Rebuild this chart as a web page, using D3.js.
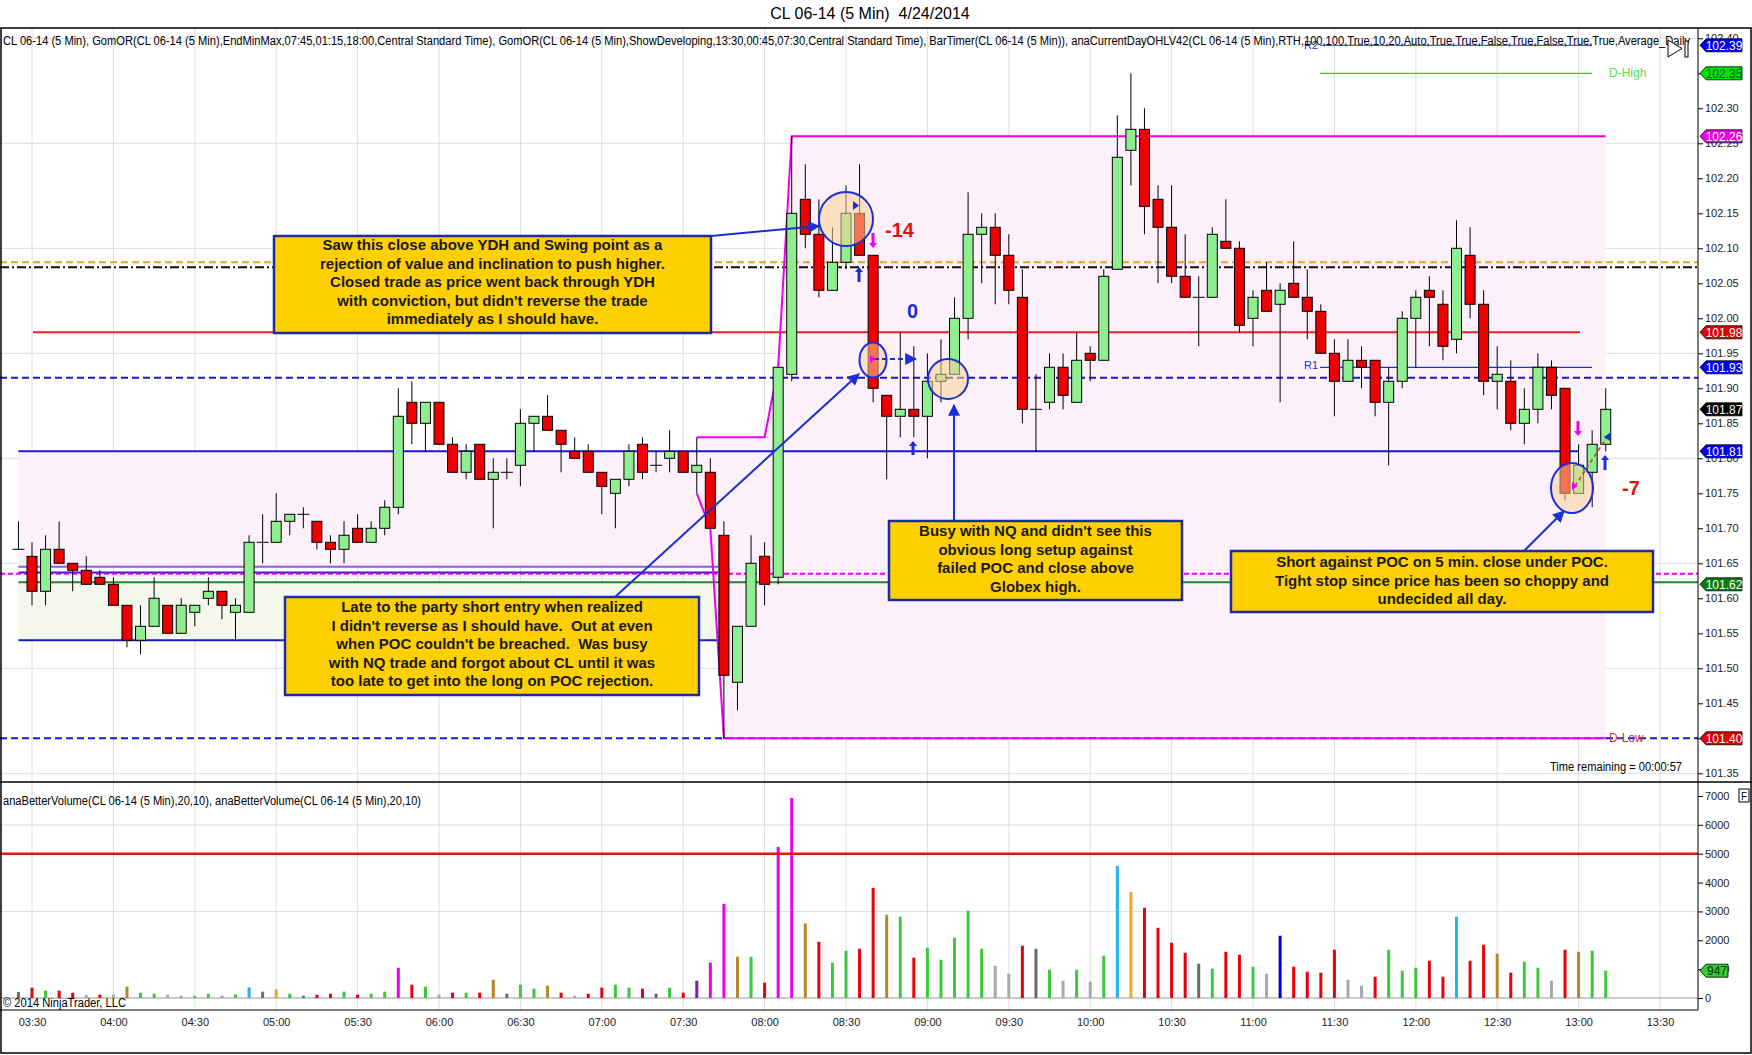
<!DOCTYPE html>
<html>
<head>
<meta charset="utf-8">
<script src="https://cdn.jsdelivr.net/npm/d3@7"></script>
<style>
body { margin: 0; background: #fff; }
text { font-family: "Liberation Sans", Arial, sans-serif; white-space: pre; }
</style>
</head>
<body>
<div id="chart"></div>
<script>
const width = 1752, height = 1055;
const axisX = 1698;
const mainTop = 28, mainBottom = 782, volBottom = 1010;

// bars every 5 minutes from 03:25
const day = "2014-04-24";
const firstBar = "03:25";

const open = [101.67,101.66,101.61,101.67,101.65,101.64,101.63,101.62,101.59,101.54,101.56,101.59,101.55,101.58,101.60,101.61,101.58,101.58,101.68,101.68,
  101.71,101.72,101.71,101.68,101.67,101.70,101.68,101.70,101.73,101.88,101.85,101.88,101.82,101.78,101.82,101.77,101.78,101.79,101.85,101.86,
  101.84,101.81,101.81,101.78,101.75,101.77,101.82,101.79,101.80,101.81,101.78,101.78,101.69,101.48,101.56,101.66,101.63,101.92,102.17,102.12,
  102.04,102.08,102.15,102.09,101.89,101.86,101.87,101.86,101.91,101.92,102.00,102.12,102.13,102.09,102.03,101.87,101.88,101.93,101.88,101.95,
  101.94,102.07,102.24,102.27,102.17,102.13,102.06,102.03,102.03,102.11,102.10,102.00,102.04,102.02,102.05,102.03,102.01,101.95,101.91,101.94,
  101.94,101.88,101.91,102.00,102.04,102.02,101.97,102.09,102.02,101.91,101.91,101.85,101.87,101.93,101.90,101.75,101.78,101.82];
const high = [101.71,101.68,101.69,101.71,101.65,101.66,101.64,101.63,101.59,101.59,101.63,101.59,101.60,101.59,101.63,101.61,101.60,101.69,101.72,101.75,
  101.72,101.73,101.71,101.69,101.71,101.72,101.71,101.74,101.90,101.91,101.88,101.88,101.83,101.82,101.82,101.80,101.80,101.87,101.86,101.89,
  101.84,101.83,101.82,101.78,101.77,101.82,101.83,101.81,101.84,101.81,101.83,101.80,101.71,101.56,101.69,101.68,101.93,102.26,102.22,102.17,
  102.13,102.19,102.22,102.09,101.89,101.98,101.96,101.95,101.97,102.03,102.18,102.15,102.15,102.12,102.07,101.92,101.95,101.95,101.98,101.96,
  102.07,102.29,102.35,102.30,102.19,102.19,102.12,102.06,102.13,102.17,102.11,102.04,102.08,102.05,102.11,102.07,102.02,101.97,101.97,101.96,
  101.94,101.93,102.01,102.04,102.06,102.04,102.14,102.13,102.04,101.96,101.94,101.90,101.95,101.94,101.90,101.82,101.84,101.90];
const low = [101.67,101.59,101.59,101.65,101.61,101.62,101.62,101.59,101.53,101.52,101.56,101.55,101.55,101.56,101.59,101.57,101.54,101.58,101.65,101.68,
  101.69,101.70,101.67,101.65,101.65,101.68,101.68,101.69,101.72,101.82,101.81,101.82,101.78,101.77,101.77,101.70,101.77,101.76,101.81,101.84,
  101.78,101.80,101.78,101.72,101.70,101.76,101.77,101.78,101.78,101.78,101.75,101.70,101.40,101.44,101.56,101.59,101.62,101.91,102.10,102.03,
  102.04,102.07,102.09,101.88,101.77,101.83,101.83,101.80,101.88,101.92,101.97,102.05,102.02,102.02,101.85,101.81,101.87,101.87,101.88,101.91,
  101.94,102.07,102.19,102.12,102.05,102.05,102.03,101.96,102.03,102.10,101.98,101.96,102.01,101.88,102.03,101.97,101.95,101.86,101.91,101.90,
  101.86,101.79,101.90,101.93,101.96,101.94,101.95,102.00,101.89,101.87,101.84,101.82,101.85,101.87,101.74,101.75,101.73,101.81];
const close = [101.67,101.61,101.67,101.65,101.64,101.62,101.62,101.59,101.54,101.56,101.60,101.55,101.59,101.59,101.61,101.59,101.59,101.68,101.68,101.71,
  101.72,101.72,101.68,101.67,101.69,101.68,101.70,101.73,101.86,101.85,101.88,101.82,101.78,101.81,101.77,101.78,101.78,101.85,101.86,101.84,
  101.82,101.80,101.78,101.76,101.77,101.81,101.78,101.79,101.81,101.78,101.79,101.70,101.49,101.56,101.65,101.62,101.93,102.15,102.12,102.04,
  102.08,102.15,102.09,101.90,101.86,101.87,101.86,101.91,101.92,102.00,102.12,102.13,102.09,102.04,101.87,101.87,101.93,101.89,101.94,101.94,
  102.06,102.23,102.27,102.16,102.13,102.06,102.03,102.03,102.12,102.10,101.99,102.03,102.01,102.04,102.03,102.01,101.95,101.91,101.94,101.93,
  101.88,101.91,102.00,102.03,102.03,101.96,102.10,102.02,101.91,101.92,101.85,101.87,101.93,101.89,101.75,101.79,101.82,101.87];

const volume = [208,358,254,254,185,104,115,115,392,185,150,115,80,80,150,80,115,369,219,300,
  150,80,115,150,219,115,150,219,1050,461,392,115,185,185,185,634,150,461,323,427,
  185,80,150,358,461,358,323,150,358,185,600,1223,3264,1430,1430,531,5236,6932,2584,1949,
  1223,1638,1707,3818,2884,2814,1396,1742,1326,2088,3022,1707,1119,842,1811,1707,980,600,980,565,
  1465,4579,3679,3126,2434,1915,1569,1188,1015,1603,1500,1084,842,2157,1084,911,877,1672,634,427,
  738,1672,946,1050,1292,738,2814,1292,1845,1534,877,1257,1050,600,1672,1603,1638,947];
// volume bar class: r red, g green, l light gray, d dark gray, y goldenrod, o orange, c cyan, m magenta, p purple, b blue
const volType = ["d","r","g","r","r","l","r","l","y","g","g","l","l","g","g","l","g","c","d","o",
  "g","d","r","r","g","r","g","g","m","r","g","l","r","g","r","y","d","g","g","y",
  "r","l","r","r","g","g","r","d","g","r","p","m","m","y","g","r","m","m","y","r",
  "g","g","r","r","y","g","r","g","g","g","g","g","l","l","r","d","g","l","g","l",
  "g","c","o","r","r","r","r","d","g","r","r","g","l","b","r","r","r","r","l","l",
  "r","g","g","g","r","r","c","r","r","y","r","g","g","l","r","y","g","g"];

const priceTicks = [101.35,101.40,101.45,101.50,101.55,101.60,101.65,101.70,101.75,101.80,101.85,101.90,101.95,102.00,102.05,102.10,102.15,102.20,102.25,102.30,102.35,102.40];
const priceGrid = [101.35,101.50,101.65,101.80,101.95,102.10,102.25,102.40];
const volTicks = [0,1000,2000,3000,4000,5000,6000,7000];
const volGrid = [3000,6000];
const volAlert = 5000;

// indicator levels
const levelR2 = 102.39, levelDHigh = 102.35, levelOrange = 102.08, levelBlack = 102.073, levelRed = 101.98;
const levelR1 = 101.93, levelBlueDash = 101.915, levelBlue = 101.81, levelViolet = 101.645, levelBlueThin = 101.637;
const levelPinkDash = 101.635, levelGreen = 101.623, levelBlueLow = 101.54, levelDLow = 101.40;
const rangeStart = 50, rangeEnd = 65;

const flagValues = [102.39, 102.35, 102.26, 101.98, 101.93, 101.87, 101.81, 101.62, 101.40];
const flagStyle = [["#0000ee","#fff"],["#00e000","#063"],["#ee00ee","#fff"],["#e00000","#fff"],["#0000ee","#fff"],["#000","#fff"],["#0000ee","#fff"],["#0b7d0b","#fff"],["#e00000","#fff"]];

const volColor = { r: "#e8000b", g: "#3cc83c", l: "#a8a8a8", d: "#6a6a6a", y: "#b8862a", o: "#f5a623", c: "#1eb4f0", m: "#ee00ee", p: "#7a1fb0", b: "#0000dd" };

const headerText = "CL 06-14 (5 Min), GomOR(CL 06-14 (5 Min),EndMinMax,07:45,01:15,18:00,Central Standard Time), GomOR(CL 06-14 (5 Min),ShowDeveloping,13:30,00:45,07:30,Central Standard Time), BarTimer(CL 06-14 (5 Min)), anaCurrentDayOHLV42(CL 06-14 (5 Min),RTH,100,100,True,10,20,Auto,True,True,False,True,False,True,True,Average_Daily";

const note1 = ["Saw this close above YDH and Swing point as a", "rejection of value and inclination to push higher.", "Closed trade as price went back through YDH", "with conviction, but didn't reverse the trade", "immediately as I should have."];
const note2 = ["Busy with NQ and didn't see this", "obvious long setup against", "failed POC and close above", "Globex high."];
const note3 = ["Late to the party short entry when realized", "I didn't reverse as I should have.  Out at even", "when POC couldn't be breached.  Was busy", "with NQ trade and forgot about CL until it was", "too late to get into the long on POC rejection."];
const note4 = ["Short against POC on 5 min. close under POC.", "Tight stop since price has been so choppy and", "undecided all day."];

let parseTime = d3.timeParse("%Y-%m-%d %H:%M");
let t0 = parseTime(day + " " + firstBar);
let bars = open.map(function(o, i) {
    return { t: d3.timeMinute.offset(t0, 5 * i), o: o, h: high[i], l: low[i], c: close[i], v: volume[i], k: volType[i] };
});

let svg = d3.select("#chart")
    .append("svg")
    .attr("width", width)
    .attr("height", height);

svg.append("defs").append("marker")
    .attr("id", "arr")
    .attr("viewBox", "0 0 10 10")
    .attr("refX", 9).attr("refY", 5)
    .attr("markerWidth", 6).attr("markerHeight", 6)
    .attr("markerUnits", "strokeWidth")
    .attr("orient", "auto")
    .append("path").attr("d", "M0,0L10,5L0,10z").attr("fill", "#1a2fd6");

let x = d3.scaleTime()
    .domain([parseTime(day + " 03:30"), parseTime(day + " 13:30")])
    .range([32, 1660]);
let y = d3.scaleLinear().domain([101.35, 102.40]).range([773.3, 38.3]);
let yv = d3.scaleLinear().domain([0, 7000]).range([998, 796]);

// title
svg.append("text").attr("x", 870).attr("y", 19).style("text-anchor", "middle")
    .style("font-size", "16px").text("CL 06-14 (5 Min)  4/24/2014");

// grid
let grid = svg.append("g").attr("stroke", "#dedede").attr("stroke-width", 1);
x.ticks(d3.timeMinute.every(30)).forEach(function(t) {
    grid.append("line").attr("x1", x(t)).attr("x2", x(t)).attr("y1", mainTop).attr("y2", volBottom);
});
priceGrid.forEach(function(p) {
    grid.append("line").attr("x1", 0).attr("x2", axisX).attr("y1", y(p)).attr("y2", y(p));
});
volGrid.forEach(function(v) {
    grid.append("line").attr("x1", 0).attr("x2", axisX).attr("y1", yv(v)).attr("y2", yv(v));
});

// overnight boxes
let i0 = x(bars[0].t), xOn = 718;
svg.append("rect").attr("x", i0).attr("width", xOn - i0).attr("y", y(levelBlue)).attr("height", y(levelViolet) - y(levelBlue)).attr("fill", "#fcf0fb");
svg.append("rect").attr("x", i0).attr("width", xOn - i0).attr("y", y(levelGreen)).attr("height", y(levelBlueLow) - y(levelGreen)).attr("fill", "#f4f8ec");

// developing range
let devHi = [], devLo = [];
let hi = -Infinity, lo = Infinity;
for (let i = rangeStart; i < bars.length; i++) {
    if (i <= rangeEnd) { hi = Math.max(hi, bars[i].h); lo = Math.min(lo, bars[i].l); }
    devHi.push([bars[i].t, hi]);
    devLo.push([bars[i].t, lo]);
}
svg.append("path").datum(devHi.map(function(d, i) { return [d[0], d[1], devLo[i][1]]; }))
    .attr("fill", "#fcf0fb")
    .attr("d", d3.area().x(function(d) { return x(d[0]); }).y0(function(d) { return y(d[2]); }).y1(function(d) { return y(d[1]); }));

// level lines
function level(p, x1, x2, color, w, dash) {
    svg.append("line").attr("x1", x1).attr("x2", x2).attr("y1", y(p)).attr("y2", y(p))
        .attr("stroke", color).attr("stroke-width", w).attr("stroke-dasharray", dash || null);
}
level(levelR2, 1320, 1592, "#2233cc", 1);
level(levelDHigh, 1320, 1592, "#33cc33", 1.2);
level(levelOrange, 0, axisX, "#f0a020", 2, "7,4");
level(levelBlack, 0, axisX, "#111", 2, "9,3,2,3");
level(levelRed, 33, 1580, "#f02020", 2);
level(levelR1, 1320, 1592, "#2233cc", 1.2);
level(levelBlueDash, 0, axisX, "#1a1acc", 2, "7,4");
level(levelBlue, i0, 1578, "#1a1acc", 2);
level(levelViolet, i0, xOn, "#9955dd", 2);
level(levelBlueThin, i0, xOn, "#2222cc", 2);
level(levelPinkDash, 0, axisX, "#ee00ee", 2, "5,3");
level(levelGreen, i0, axisX, "#228822", 2);
level(levelBlueLow, i0, xOn, "#1a1acc", 2);
level(levelDLow, 0, axisX, "#1a1acc", 2, "7,4");

let devLine = d3.line().x(function(d) { return x(d[0]); }).y(function(d) { return y(d[1]); });
svg.append("path").datum(devHi).attr("fill", "none").attr("stroke", "#ee00ee").attr("stroke-width", 2).attr("d", devLine);
svg.append("path").datum(devLo).attr("fill", "none").attr("stroke", "#ee00ee").attr("stroke-width", 2).attr("d", devLine);

svg.append("text").attr("x", 1318).attr("y", 369).style("text-anchor", "end").style("font-size", "11px").attr("fill", "#2233cc").text("R1");
svg.append("text").attr("x", 1318).attr("y", 49).style("text-anchor", "end").style("font-size", "11px").attr("fill", "#2233cc").text("R2");
svg.append("text").attr("x", 1609).attr("y", 77).style("font-size", "12px").attr("fill", "#55dd55").text("D-High");
svg.append("text").attr("x", 1609).attr("y", 742).style("font-size", "12px").attr("fill", "#d03040").text("D-Low");

// candles
let candles = svg.append("g");
candles.selectAll("line").data(bars).enter().append("line")
    .attr("x1", function(d) { return x(d.t); }).attr("x2", function(d) { return x(d.t); })
    .attr("y1", function(d) { return y(d.h); }).attr("y2", function(d) { return y(d.l); })
    .attr("stroke", "#000").attr("stroke-width", 1);
candles.selectAll("rect").data(bars.filter(function(d) { return d.o != d.c; })).enter().append("rect")
    .attr("x", function(d) { return x(d.t) - 5; })
    .attr("width", 10)
    .attr("y", function(d) { return y(Math.max(d.o, d.c)); })
    .attr("height", function(d) { return Math.abs(y(d.o) - y(d.c)); })
    .attr("fill", function(d) { return d.c > d.o ? "#90ee90" : "#ee0000"; })
    .attr("stroke", "#000").attr("stroke-width", 1);
candles.selectAll(".doji").data(bars.filter(function(d) { return d.o == d.c; })).enter().append("line")
    .attr("x1", function(d) { return x(d.t) - 6; }).attr("x2", function(d) { return x(d.t) + 6; })
    .attr("y1", function(d) { return y(d.c); }).attr("y2", function(d) { return y(d.c); })
    .attr("stroke", "#000");

// volume
svg.append("line").attr("x1", 0).attr("x2", axisX).attr("y1", yv(0)).attr("y2", yv(0)).attr("stroke", "#999");
svg.append("g").selectAll("rect").data(bars).enter().append("rect")
    .attr("x", function(d) { return x(d.t) - 1.5; })
    .attr("width", 3)
    .attr("y", function(d) { return yv(d.v); })
    .attr("height", function(d) { return yv(0) - yv(d.v); })
    .attr("fill", function(d) { return volColor[d.k]; });
svg.append("line").attr("x1", 0).attr("x2", axisX).attr("y1", yv(volAlert)).attr("y2", yv(volAlert))
    .attr("stroke", "#ee1111").attr("stroke-width", 2.5);

// annotations
function noteBox(lines, x0, y0, w, h, top) {
    svg.append("rect").attr("x", x0).attr("y", y0).attr("width", w).attr("height", h)
        .attr("fill", "#ffd000").attr("stroke", "#1c2aa8").attr("stroke-width", 2.5);
    lines.forEach(function(s, i) {
        svg.append("text").attr("x", x0 + w / 2).attr("y", top + i * 18.5)
            .style("text-anchor", "middle").style("font-size", "15px").style("font-weight", "bold")
            .attr("fill", "#1a1a1a").text(s);
    });
}
function arrow(x1, y1, x2, y2, dash) {
    svg.append("line").attr("x1", x1).attr("y1", y1).attr("x2", x2).attr("y2", y2)
        .attr("stroke", "#1a2fd6").attr("stroke-width", 2).attr("stroke-dasharray", dash || null)
        .attr("marker-end", "url(#arr)");
}
function ring(cx, cy, rx, ry) {
    svg.append("ellipse").attr("cx", cx).attr("cy", cy).attr("rx", rx).attr("ry", ry)
        .attr("fill", "rgba(250,210,150,0.55)").attr("stroke", "#1a2fd6").attr("stroke-width", 2);
}
function tick(cx, ya, yb, color) {
    let dir = yb > ya ? 1 : -1;
    svg.append("line").attr("x1", cx).attr("x2", cx).attr("y1", ya).attr("y2", yb - dir * 4)
        .attr("stroke", color).attr("stroke-width", 3);
    svg.append("path").attr("d", `M${cx - 4},${yb - dir * 5}L${cx + 4},${yb - dir * 5}L${cx},${yb}z`).attr("fill", color);
}

ring(846, 219, 27, 27);
ring(873, 360, 13.5, 17.5);
ring(948, 379, 20, 20);
ring(1572, 488, 21, 25);

noteBox(note1, 274, 236, 437, 97, 250);
noteBox(note2, 889, 521, 293, 79, 536);
noteBox(note3, 285, 597, 414, 98, 612);
noteBox(note4, 1231, 551, 422, 61, 567);

arrow(711, 236, 819, 226);
arrow(615, 597, 859, 374);
arrow(954, 520, 954, 405);
arrow(1524, 551, 1564, 511);
arrow(874, 359, 916, 359, "5,3");

tick(873, 233, 248, "#ee00ee");
tick(859, 282, 267, "#1a2fd6");
tick(913, 455, 441, "#1a2fd6");
tick(1578, 421, 436, "#ee00ee");
tick(1605, 470, 455, "#1a2fd6");
svg.append("path").attr("d", "M853,201L859,205.5L853,210z").attr("fill", "#1a2fd6");
svg.append("path").attr("d", "M870,355L876,359L870,363z").attr("fill", "#ee00ee");
svg.append("line").attr("x1", 1575).attr("y1", 486).attr("x2", 1609).attr("y2", 434)
    .attr("stroke", "#c04040").attr("stroke-width", 1.5).attr("stroke-dasharray", "4,3");
svg.append("path").attr("d", "M1572,482L1578,486L1572,490z").attr("fill", "#ee00ee");
svg.append("path").attr("d", "M1604,437L1611,432L1610,441z").attr("fill", "#1a2fd6");

svg.append("text").attr("x", 885).attr("y", 237).style("font-size", "20px").style("font-weight", "bold").attr("fill", "#e01010").text("-14");
svg.append("text").attr("x", 907).attr("y", 318).style("font-size", "20px").style("font-weight", "bold").attr("fill", "#1a2fd6").text("0");
svg.append("text").attr("x", 1622).attr("y", 495).style("font-size", "20px").style("font-weight", "bold").attr("fill", "#e01010").text("-7");

// frame and panel lines
let frame = svg.append("g").attr("stroke", "#000").attr("fill", "none");
frame.append("rect").attr("x", 1).attr("y", mainTop).attr("width", width - 2).attr("height", 1053 - mainTop).attr("stroke-width", 1.5);
frame.append("line").attr("x1", 0).attr("x2", width).attr("y1", mainBottom).attr("y2", mainBottom).attr("stroke-width", 1.5);
frame.append("line").attr("x1", 0).attr("x2", axisX).attr("y1", volBottom).attr("y2", volBottom);
frame.append("line").attr("x1", axisX).attr("x2", axisX).attr("y1", mainTop).attr("y2", volBottom);

// axes
let yAxis = svg.append("g").attr("transform", `translate(${axisX},0)`)
    .call(d3.axisRight(y).tickValues(priceTicks).tickSize(5).tickPadding(2).tickFormat(d3.format(".2f")));
let vAxis = svg.append("g").attr("transform", `translate(${axisX},0)`)
    .call(d3.axisRight(yv).tickValues(volTicks).tickSize(5).tickPadding(2).tickFormat(d3.format("d")));
let xAxis = svg.append("g").attr("transform", `translate(0,${volBottom})`)
    .call(d3.axisBottom(x).ticks(d3.timeMinute.every(30)).tickSize(0).tickPadding(8).tickFormat(d3.timeFormat("%H:%M")));
[yAxis, vAxis, xAxis].forEach(function(a) {
    a.select(".domain").remove();
    a.selectAll("text").style("font-size", "11px").style("font-family", "Liberation Sans, Arial").attr("fill", "#222");
});

// price flags
flagValues.forEach(function(v, i) {
    let fy = y(v);
    svg.append("path").attr("d", `M${axisX + 2},${fy}L${axisX + 8},${fy - 6.5}L${axisX + 44},${fy - 6.5}L${axisX + 44},${fy + 6.5}L${axisX + 8},${fy + 6.5}z`)
        .attr("fill", flagStyle[i][0]).attr("stroke", "#000").attr("stroke-width", 0.8);
    svg.append("text").attr("x", axisX + 26).attr("y", fy + 4.5).style("text-anchor", "middle")
        .style("font-size", "12px").attr("fill", flagStyle[i][1]).text(d3.format(".2f")(v));
});
let lastV = volume[volume.length - 1];
svg.append("path").attr("d", `M${axisX + 2},${yv(lastV)}L${axisX + 8},${yv(lastV) - 6.5}L${axisX + 30},${yv(lastV) - 6.5}L${axisX + 30},${yv(lastV) + 6.5}L${axisX + 8},${yv(lastV) + 6.5}z`)
    .attr("fill", "#33cc33").attr("stroke", "#000").attr("stroke-width", 0.8);
svg.append("text").attr("x", axisX + 19).attr("y", yv(lastV) + 4.5).style("text-anchor", "middle").style("font-size", "12px").attr("fill", "#030").text(lastV);
svg.append("rect").attr("x", 1739).attr("y", 789).attr("width", 10).attr("height", 13).attr("fill", "#fff").attr("stroke", "#000");
svg.append("text").attr("x", 1744).attr("y", 800).style("text-anchor", "middle").style("font-size", "10px").text("F");

// texts
svg.append("text").attr("x", 3).attr("y", 44.5).style("font-size", "12px")
    .attr("textLength", 1687).attr("lengthAdjust", "spacingAndGlyphs").text(headerText);
svg.append("path").attr("d", "M1668,40L1682,48.5L1668,57z").attr("fill", "#fff").attr("stroke", "#000");
svg.append("rect").attr("x", 1685).attr("y", 41).attr("width", 3).attr("height", 16).attr("fill", "#fff").attr("stroke", "#000");
svg.append("text").attr("x", 1682).attr("y", 771).style("text-anchor", "end").style("font-size", "12px")
    .attr("textLength", 132).attr("lengthAdjust", "spacingAndGlyphs").text("Time remaining = 00:00:57");
svg.append("text").attr("x", 3).attr("y", 805).style("font-size", "12px")
    .attr("textLength", 418).attr("lengthAdjust", "spacingAndGlyphs")
    .text("anaBetterVolume(CL 06-14 (5 Min),20,10), anaBetterVolume(CL 06-14 (5 Min),20,10)");
svg.append("text").attr("x", 3).attr("y", 1007).style("font-size", "12px")
    .attr("textLength", 123).attr("lengthAdjust", "spacingAndGlyphs").text("© 2014 NinjaTrader, LLC");
</script>
</body>
</html>
